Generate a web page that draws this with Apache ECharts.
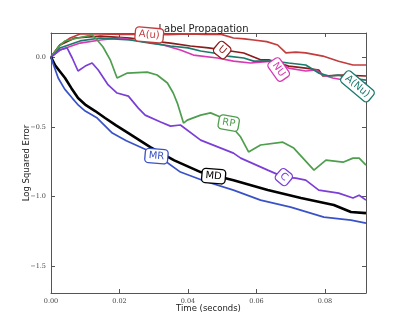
<!DOCTYPE html>
<html>
<head>
<meta charset="utf-8">
<script src="https://cdn.jsdelivr.net/npm/echarts@6/dist/echarts.min.js"></script>
<style>
  html, body { margin: 0; padding: 0; background: #fff; }
  #chart { width: 407px; height: 326px; }
</style>
</head>
<body>
<div id="chart"></div>
<script>
// values: [time (s), log squared error]
var seriesNames = ['A(u)', 'U', 'NU', 'A(Nu)', 'RP', 'C', 'MD', 'MR'];
var seriesColors = ['#c43c3c', '#8b1c1c', '#d93ab4', '#1b7a6e', '#4e9e4e', '#7b3ed6', '#000000', '#3a52c8'];

var aU = [[0,0],[0.0026,0.086],[0.0056,0.136],[0.0085,0.165],[0.014,0.165],[0.0202,0.162],[0.029,0.163],[0.034,0.16],[0.04,0.166],[0.045,0.162],[0.0495,0.164],[0.0533,0.136],[0.0565,0.13],[0.0592,0.122],[0.063,0.11],[0.0662,0.086],[0.0686,0.03],[0.0715,0.035],[0.0744,0.03],[0.0794,0.007],[0.084,-0.03],[0.0882,-0.057],[0.092,-0.057]];
var uU = [[0,0],[0.0026,0.086],[0.007,0.136],[0.0144,0.15],[0.0231,0.136],[0.029,0.115],[0.0349,0.1],[0.0407,0.079],[0.046,0.065],[0.0524,0.043],[0.0563,0.029],[0.0612,-0.02],[0.0636,-0.02],[0.0694,-0.065],[0.0744,-0.079],[0.0782,-0.093],[0.0794,-0.136],[0.0853,-0.129],[0.092,-0.136]];
var nU = [[0,0],[0.0026,0.05],[0.0085,0.1],[0.0144,0.122],[0.0202,0.136],[0.024,0.122],[0.0299,0.1],[0.0328,0.086],[0.0378,0.05],[0.0416,0.014],[0.0486,-0.007],[0.0533,-0.029],[0.0583,-0.043],[0.0648,-0.029],[0.0694,-0.079],[0.0744,-0.1],[0.0774,-0.093],[0.0794,-0.129],[0.0823,-0.15],[0.087,-0.172],[0.092,-0.186]];
var aNu = [[0,0],[0.0026,0.065],[0.0085,0.115],[0.0144,0.136],[0.0231,0.122],[0.029,0.1],[0.0349,0.079],[0.04,0.065],[0.0437,0.043],[0.0475,0.029],[0.0516,0.007],[0.0563,-0.007],[0.0592,-0.029],[0.0648,-0.029],[0.0694,-0.043],[0.0744,-0.057],[0.0782,-0.115],[0.0812,-0.136],[0.084,-0.129],[0.0867,-0.15],[0.092,-0.165]];
var rP = [[0,0],[0.0021,0.07],[0.0041,0.115],[0.0079,0.136],[0.012,0.158],[0.0135,0.122],[0.0152,0.072],[0.0173,-0.02],[0.0193,-0.15],[0.0223,-0.115],[0.0281,-0.108],[0.031,-0.129],[0.034,-0.186],[0.0357,-0.258],[0.0369,-0.33],[0.0387,-0.473],[0.0398,-0.452],[0.0437,-0.416],[0.0466,-0.4],[0.0495,-0.43],[0.0519,-0.473],[0.0554,-0.573],[0.0577,-0.68],[0.0612,-0.63],[0.0677,-0.61],[0.0709,-0.652],[0.0768,-0.81],[0.0803,-0.738],[0.0853,-0.753],[0.0882,-0.724],[0.09,-0.724],[0.092,-0.774]];
var cC = [[0,0],[0.0026,0.05],[0.0047,0.065],[0.0062,-0.007],[0.0079,-0.1],[0.01,-0.065],[0.012,-0.043],[0.0138,-0.093],[0.0167,-0.2],[0.0193,-0.258],[0.0226,-0.28],[0.0255,-0.366],[0.0275,-0.416],[0.032,-0.466],[0.0349,-0.495],[0.0378,-0.487],[0.0437,-0.595],[0.0533,-0.688],[0.0554,-0.724],[0.0633,-0.81],[0.068,-0.86],[0.0715,-0.867],[0.0744,-0.882],[0.0782,-0.953],[0.084,-0.975],[0.0882,-1.01],[0.09,-0.99],[0.092,-1.025]];
var mD = [[0,0],[0.0012,-0.06],[0.0025,-0.1],[0.0041,-0.15],[0.006,-0.225],[0.0079,-0.294],[0.0102,-0.345],[0.0129,-0.387],[0.0158,-0.437],[0.019,-0.49],[0.0226,-0.545],[0.029,-0.645],[0.036,-0.74],[0.0437,-0.824],[0.0533,-0.882],[0.0633,-0.953],[0.073,-1.01],[0.0826,-1.06],[0.0876,-1.11],[0.092,-1.118]];
var mR = [[0,0],[0.0008,-0.06],[0.0021,-0.15],[0.004,-0.23],[0.0062,-0.294],[0.008,-0.345],[0.01,-0.387],[0.0135,-0.437],[0.0179,-0.545],[0.022,-0.6],[0.0275,-0.66],[0.0308,-0.7],[0.0378,-0.824],[0.045,-0.89],[0.0533,-0.953],[0.0612,-1.025],[0.07,-1.075],[0.0797,-1.147],[0.0876,-1.168],[0.092,-1.19]];
var seriesData = [aU, uU, nU, aNu, rP, cC, mD, mR];

// where each inline label sits, and its tilt
var labelSpots = [[0.0287, 0.158], [0.050, 0.05], [0.0665, -0.09], [0.0895, -0.21], [0.0519, -0.473], [0.068, -0.86], [0.0475, -0.853], [0.0308, -0.71]];
var labelTilts = [-5, -40, -55, -40, -10, -40, -5, -5];

var xTicks = [0, 0.02, 0.04, 0.06, 0.08];
var yTicks = [-1.5, -1.0, -0.5, 0.0];

var chart = echarts.init(document.getElementById('chart'));

var series = [];
for (var i = 0; i < seriesNames.length; i++) {
  series.push({
    name: seriesNames[i],
    type: 'line',
    data: seriesData[i],
    showSymbol: false,
    symbol: 'none',
    silent: true,
    animation: false,
    lineStyle: { color: seriesColors[i], width: i == 6 ? 2.6 : 1.7 },
    z: 2 + i,
    markPoint: {
      symbol: 'rect',
      symbolSize: 1,
      itemStyle: { color: 'rgba(0,0,0,0)' },
      silent: true,
      z: 20,
      label: {
        show: true,
        position: 'inside',
        formatter: seriesNames[i],
        color: seriesColors[i],
        fontFamily: 'DejaVu Sans',
        fontSize: 10,
        backgroundColor: '#fff',
        borderColor: seriesColors[i],
        borderWidth: 1.3,
        borderRadius: 3,
        padding: [2, 3, 1, 3],
        rotate: labelTilts[i]
      },
      data: [{ coord: labelSpots[i] }]
    }
  });
}

var fmtY = function (v) { return (v < 0 ? '\u2212' : '') + Math.abs(v).toFixed(1); };
var frameLine = { show: true, onZero: false, lineStyle: { color: '#555', width: 1 } };

var option = {
  backgroundColor: '#fff',
  animation: false,
  title: {
    text: 'Label Propagation',
    left: 'center',
    top: 19,
    textStyle: { fontFamily: 'DejaVu Sans', fontSize: 10, fontWeight: 'normal', color: '#222' }
  },
  grid: { left: 51, right: 41, top: 33, bottom: 33 },
  xAxis: [{
    type: 'value',
    min: 0,
    max: 0.092,
    name: 'Time (seconds)',
    nameLocation: 'middle',
    nameGap: 11,
    nameMoveOverlap: false,
    nameTextStyle: { fontFamily: 'DejaVu Sans', fontSize: 8.5, color: '#222' },
    splitLine: { show: false },
    axisLine: frameLine,
    axisTick: { inside: true, length: 4, customValues: xTicks, lineStyle: { color: '#555' } },
    axisLabel: {
      customValues: xTicks,
      formatter: function (v) { return v.toFixed(2); },
      fontFamily: 'DejaVu Serif', fontSize: 6.5, color: '#444', margin: 5
    }
  }, {
    type: 'value',
    min: 0,
    max: 0.092,
    position: 'top',
    splitLine: { show: false },
    axisLine: frameLine,
    axisTick: { inside: true, length: 4, customValues: xTicks, lineStyle: { color: '#555' } },
    axisLabel: { show: false }
  }],
  yAxis: [{
    type: 'value',
    min: -1.69,
    max: 0.172,
    name: 'Log Squared Error',
    nameLocation: 'middle',
    nameGap: 20,
    nameMoveOverlap: false,
    nameTextStyle: { fontFamily: 'DejaVu Sans', fontSize: 8.5, color: '#222' },
    splitLine: { show: false },
    axisLine: frameLine,
    axisTick: { show: true, inside: true, length: 4, customValues: yTicks, lineStyle: { color: '#555' } },
    axisLabel: {
      customValues: yTicks,
      formatter: fmtY,
      fontFamily: 'DejaVu Serif', fontSize: 6.5, color: '#444', margin: 5
    }
  }, {
    type: 'value',
    min: -1.69,
    max: 0.172,
    position: 'right',
    splitLine: { show: false },
    axisLine: frameLine,
    axisTick: { show: true, inside: true, length: 4, customValues: yTicks, lineStyle: { color: '#555' } },
    axisLabel: { show: false }
  }],
  series: series
};

chart.setOption(option);
</script>
</body>
</html>
